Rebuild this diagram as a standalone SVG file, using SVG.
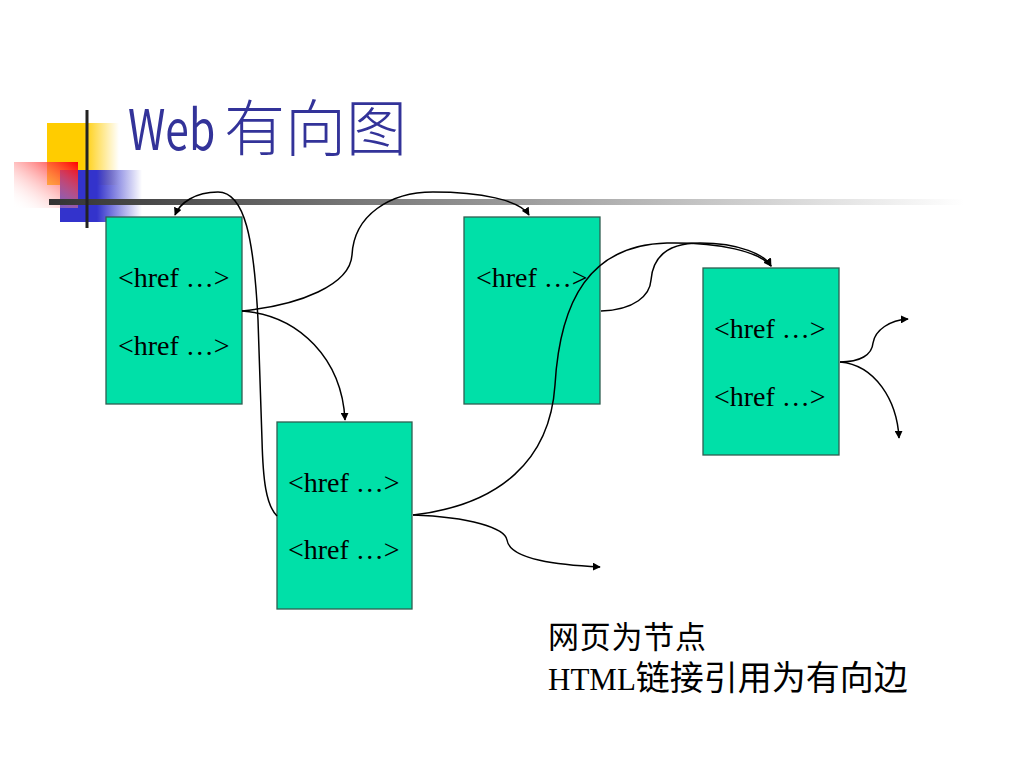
<svg xmlns="http://www.w3.org/2000/svg" width="1024" height="768" viewBox="0 0 1024 768">
<defs>
<linearGradient id="gy" x1="0" y1="0" x2="1" y2="0"><stop offset="0" stop-color="#FFCC00"/><stop offset="0.5" stop-color="#FFCC00"/><stop offset="1" stop-color="#FFCC00" stop-opacity="0"/></linearGradient>
<linearGradient id="gr" x1="1" y1="0" x2="0" y2="1"><stop offset="0" stop-color="#FF0000"/><stop offset="1" stop-color="#FFFFFF" stop-opacity="0"/></linearGradient>
<linearGradient id="gb" x1="0" y1="0" x2="1" y2="0"><stop offset="0" stop-color="#3333CC"/><stop offset="0.45" stop-color="#3333CC"/><stop offset="1" stop-color="#3333CC" stop-opacity="0"/></linearGradient>
<linearGradient id="gl" x1="0" y1="0" x2="1" y2="0"><stop offset="0" stop-color="#333333"/><stop offset="1" stop-color="#FFFFFF"/></linearGradient>
<marker id="ah" viewBox="0 0 10 10" refX="9" refY="5" markerWidth="8" markerHeight="8" markerUnits="userSpaceOnUse" orient="auto"><path d="M0,0 L10,5 L0,10 Z" fill="#000"/></marker>
<style>
.node rect{fill:#00E0A8;stroke:#2F5F50;stroke-width:1.3}
.node text{font-family:"Liberation Serif","Times New Roman",serif;font-size:28px;fill:#000}
#connectors path{fill:none;stroke:#000;stroke-width:1.5;marker-end:url(#ah)}
.cap{font-family:"Liberation Serif","Noto Sans CJK SC",serif;font-size:31px;fill:#000}
.title{font-family:"Noto Sans CJK SC",sans-serif;fill:#333399}
</style>
</defs>
<rect width="1024" height="768" fill="#fff"/>
<g id="logo">
<rect x="47" y="123" width="72" height="62" fill="url(#gy)"/>
<rect x="60" y="170" width="82" height="52" fill="url(#gb)"/>
<rect x="14" y="162" width="64" height="46" fill="url(#gr)"/>
<rect x="49" y="199" width="915" height="6" fill="url(#gl)"/>
<rect x="85.5" y="110" width="3" height="118" fill="#222"/>
</g>
<text class="title" transform="translate(128,150) scale(0.76,1)" x="0" y="0" font-size="56">Web</text>
<text class="title" x="224" y="151" font-size="61" font-weight="300">有向图</text>
<g id="n1" class="node"><rect x="106" y="217" width="136" height="187"/><text x="118" y="287">&lt;href …&gt;</text><text x="118" y="355">&lt;href …&gt;</text></g>
<g id="n2" class="node"><rect x="277" y="422" width="135" height="187"/><text x="288" y="492">&lt;href …&gt;</text><text x="288" y="559">&lt;href …&gt;</text></g>
<g id="n3" class="node"><rect x="464" y="217" width="136" height="187"/><text x="476" y="287">&lt;href …&gt;</text></g>
<g id="n4" class="node"><rect x="703" y="268" width="136" height="187"/><text x="714" y="338">&lt;href …&gt;</text><text x="714" y="406">&lt;href …&gt;</text></g>
<g id="connectors">
<path d="M277,516 C266,505 263,480 262,440 L258,320 C254,240 245,192 218,192 C195,192 180,203 175,215"/>
<path d="M242,311 C300,305 350,285 352,255 C354,215 390,192 433,192 C480,192 520,200 529,215"/>
<path d="M242,311 C300,315 342,360 345,420"/>
<path d="M413,515 C500,505 550,460 555,385 C560,300 590,245 667,243 C720,242 760,252 771,266"/>
<path d="M601,311 C635,310 650,295 651,280 C653,255 670,243 700,243 C740,243 765,255 771,266"/>
<path d="M413,515 C470,517 505,528 507,540 C510,560 560,565 600,567"/>
<path d="M840,362 C860,362 872,355 873,343 C875,330 890,320 908,319"/>
<path d="M840,362 C875,365 897,400 899,438"/>
</g>
<text class="cap" x="548" y="648" textLength="158" lengthAdjust="spacing">网页为节点</text>
<text class="cap" x="548" y="690">HTML<tspan font-size="34" font-family="'Noto Sans CJK SC',sans-serif">链接引用为有向边</tspan></text>
</svg>
